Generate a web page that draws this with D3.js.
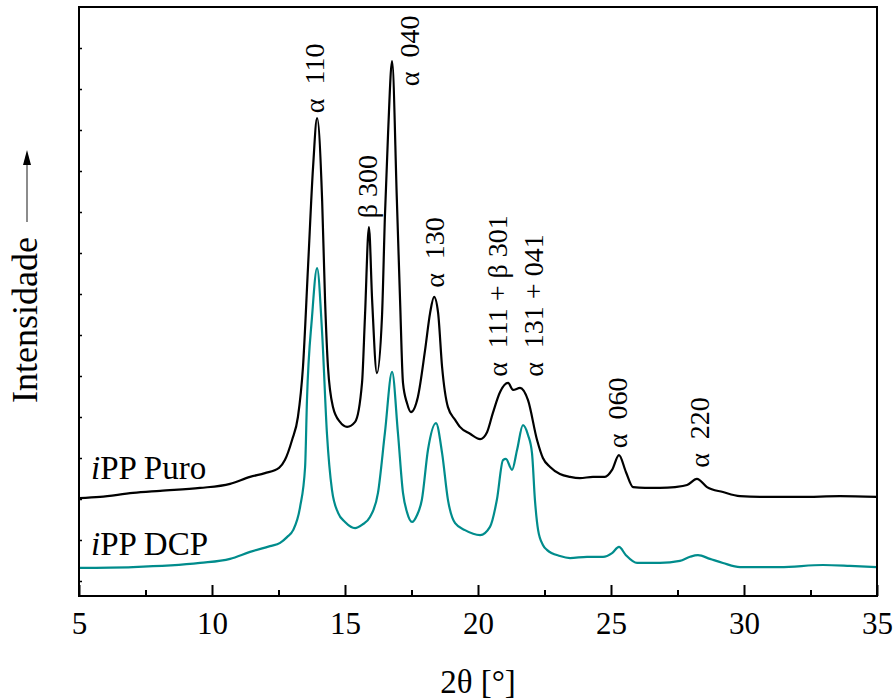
<!DOCTYPE html>
<html>
<head>
<meta charset="utf-8">
<script src="https://cdn.jsdelivr.net/npm/d3@7"></script>
<style>
  html, body { margin: 0; padding: 0; background: #fff; }
  svg { display: block; }
  text { font-family: "Liberation Serif", "Times New Roman", serif; fill: #000; }
</style>
</head>
<body>
<svg id="chart" width="895" height="699"></svg>
<script>
// ---- data (2θ in degrees, intensity in arbitrary units) ----
const puroTheta = [5.00, 5.79, 7.03, 8.05, 9.55, 10.68, 11.43, 11.99, 12.52, 12.74, 13.01, 13.23, 13.42, 13.61, 13.80, 13.95, 14.14, 14.25, 14.36, 14.55, 14.81, 15.08, 15.38, 15.64, 15.75, 15.90, 16.02, 16.20, 16.39, 16.50, 16.62, 16.77, 16.95, 17.07, 17.18, 17.33, 17.48, 17.74, 18.01, 18.20, 18.35, 18.50, 18.65, 18.87, 19.14, 19.32, 19.70, 20.08, 20.34, 20.56, 20.83, 21.13, 21.32, 21.58, 21.88, 22.22, 22.44, 22.71, 23.08, 23.46, 23.83, 24.32, 24.77, 25.04, 25.30, 25.56, 25.83, 26.28, 26.84, 27.41, 27.86, 28.23, 28.61, 29.21, 29.85, 30.60, 32.11, 33.61, 35.00];
const puroValues = [2.02, 2.05, 2.15, 2.20, 2.27, 2.37, 2.54, 2.63, 2.76, 2.95, 3.44, 4.00, 5.22, 7.66, 10.10, 11.29, 9.29, 6.85, 5.22, 4.24, 3.88, 3.76, 3.88, 4.83, 6.44, 8.63, 6.85, 5.07, 6.44, 8.88, 10.93, 12.68, 9.29, 6.85, 4.83, 4.34, 4.12, 4.49, 5.63, 6.54, 6.93, 6.54, 5.22, 4.24, 3.93, 3.76, 3.59, 3.46, 3.63, 4.10, 4.61, 4.83, 4.66, 4.71, 4.41, 3.44, 3.00, 2.78, 2.61, 2.54, 2.51, 2.54, 2.54, 2.71, 3.07, 2.66, 2.29, 2.27, 2.27, 2.29, 2.34, 2.49, 2.29, 2.17, 2.07, 2.05, 2.05, 2.07, 2.05];

const dcpTheta = [5.00, 7.03, 9.55, 10.68, 11.43, 12.18, 12.56, 12.82, 13.05, 13.31, 13.50, 13.57, 13.76, 13.95, 14.14, 14.32, 14.51, 14.74, 15.00, 15.38, 15.64, 15.94, 16.24, 16.50, 16.77, 16.99, 17.18, 17.33, 17.52, 17.71, 17.89, 18.12, 18.42, 18.65, 18.87, 19.14, 19.51, 20.08, 20.45, 20.71, 20.94, 21.05, 21.28, 21.47, 21.69, 21.88, 22.03, 22.14, 22.26, 22.44, 22.59, 23.08, 23.46, 24.10, 24.70, 25.04, 25.30, 25.56, 25.98, 26.84, 27.59, 27.97, 28.27, 28.72, 29.21, 29.85, 31.35, 32.97, 33.98, 35.00];
const dcpValues = [0.32, 0.34, 0.44, 0.54, 0.71, 0.85, 0.93, 1.07, 1.24, 1.80, 2.78, 4.41, 6.44, 7.63, 6.05, 3.61, 2.22, 1.66, 1.44, 1.29, 1.37, 1.56, 2.15, 3.61, 5.10, 3.61, 2.15, 1.68, 1.44, 1.61, 1.98, 3.20, 3.85, 3.12, 1.98, 1.41, 1.24, 1.12, 1.32, 1.98, 2.95, 2.98, 2.71, 3.20, 3.80, 3.56, 3.12, 1.98, 1.24, 0.88, 0.76, 0.61, 0.56, 0.59, 0.59, 0.68, 0.83, 0.63, 0.44, 0.44, 0.49, 0.59, 0.63, 0.54, 0.44, 0.34, 0.34, 0.39, 0.37, 0.34];

const peakLabels = ["α\u2002110", "α\u2002040", "β 300", "α\u2002130", "α\u2002111 + β 301", "α\u2002131 + 041", "α\u2002060", "α\u2002220"];
const peakLabelTheta = [13.84, 17.41, 15.83, 18.35, 20.73, 22.09, 25.23, 28.31];
const peakLabelValue = [11.41, 12.07, 8.85, 7.15, 4.98, 4.98, 3.24, 2.76];

const seriesNames = ["PP Puro", "PP DCP"];
const seriesLabelTheta = [5.45, 5.45];
const seriesLabelValue = [2.49, 0.63];
const seriesColors = ["#000000", "#008c8c"];

const xMajorTicks = [5, 10, 15, 20, 25, 30, 35];
const xMinorTicks = [7.5, 12.5, 17.5, 22.5, 27.5, 32.5];
const yTicks = [0, 1, 2, 3, 4, 5, 6, 7, 8, 9, 10, 11, 12, 13];
const xTitle = "2θ [°]";
const yTitle = "Intensidade";

// ---- layout ----
const svg = d3.select("#chart");
const L = 79, R = 877, T = 7, B = 596;
const x = d3.scaleLinear().domain([5, 35]).range([L, R]);
const y = d3.scaleLinear().domain([-0.366, 14]).range([B, T]);

// lines
const line = d3.line().x(d => x(d[0])).y(d => y(d[1])).curve(d3.curveMonotoneX);
const series = [
  d3.zip(puroTheta, puroValues),
  d3.zip(dcpTheta, dcpValues)
];
svg.append("g").selectAll("path").data(series).join("path")
  .attr("d", line)
  .attr("fill", "none")
  .attr("stroke", (d, i) => seriesColors[i])
  .attr("stroke-width", 2.2)
  .attr("stroke-linejoin", "round");

// axes
const gx = svg.append("g").attr("transform", `translate(0,${B})`)
  .call(d3.axisBottom(x).tickValues(xMajorTicks).tickSize(-11).tickPadding(16).tickFormat(d3.format("d")));
gx.select(".domain").remove();
gx.selectAll(".tick line").attr("stroke", "#000").attr("stroke-width", 2);
gx.selectAll(".tick text").attr("font-size", 31).attr("font-family", "Liberation Serif, serif").attr("fill", "#000");

const gxm = svg.append("g").attr("transform", `translate(0,${B})`)
  .call(d3.axisBottom(x).tickValues(xMinorTicks).tickSize(-6).tickFormat(""));
gxm.select(".domain").remove();
gxm.selectAll(".tick line").attr("stroke", "#000").attr("stroke-width", 2);

const gy = svg.append("g").attr("transform", `translate(${L},0)`)
  .call(d3.axisLeft(y).tickValues(yTicks).tickSize(-3).tickFormat(""));
gy.select(".domain").remove();
gy.selectAll(".tick line").attr("stroke", "#000").attr("stroke-width", 1.5);

// frame
svg.append("rect").attr("x", L).attr("y", T).attr("width", R - L).attr("height", B - T)
  .attr("fill", "none").attr("stroke", "#000").attr("stroke-width", 2);

// peak labels
svg.append("g").selectAll("text").data(peakLabels).join("text")
  .attr("transform", (d, i) => `translate(${x(peakLabelTheta[i])},${y(peakLabelValue[i])}) rotate(-90)`)
  .attr("dy", "0.34em")
  .attr("font-size", 28)
  .style("white-space", "pre")
  .text(d => d);

// series labels
const sl = svg.append("g").selectAll("text").data(seriesNames).join("text")
  .attr("x", (d, i) => x(seriesLabelTheta[i]))
  .attr("y", (d, i) => y(seriesLabelValue[i]))
  .attr("font-size", 33);
sl.append("tspan").attr("font-style", "italic").text("i");
sl.append("tspan").text(d => d);

// axis titles
svg.append("text").attr("x", (L + R) / 2).attr("y", 693)
  .attr("text-anchor", "middle").attr("font-size", 33).text(xTitle);

svg.append("text").attr("transform", "translate(37,403) rotate(-90)")
  .attr("text-anchor", "start").attr("font-size", 36).text(yTitle);

// arrow next to y title
svg.append("line").attr("x1", 27).attr("x2", 27).attr("y1", 222).attr("y2", 162)
  .attr("stroke", "#666").attr("stroke-width", 1.5);
svg.append("path").attr("d", "M27,150 L31,165 L23,165 Z").attr("fill", "#000");
</script>
</body>
</html>
